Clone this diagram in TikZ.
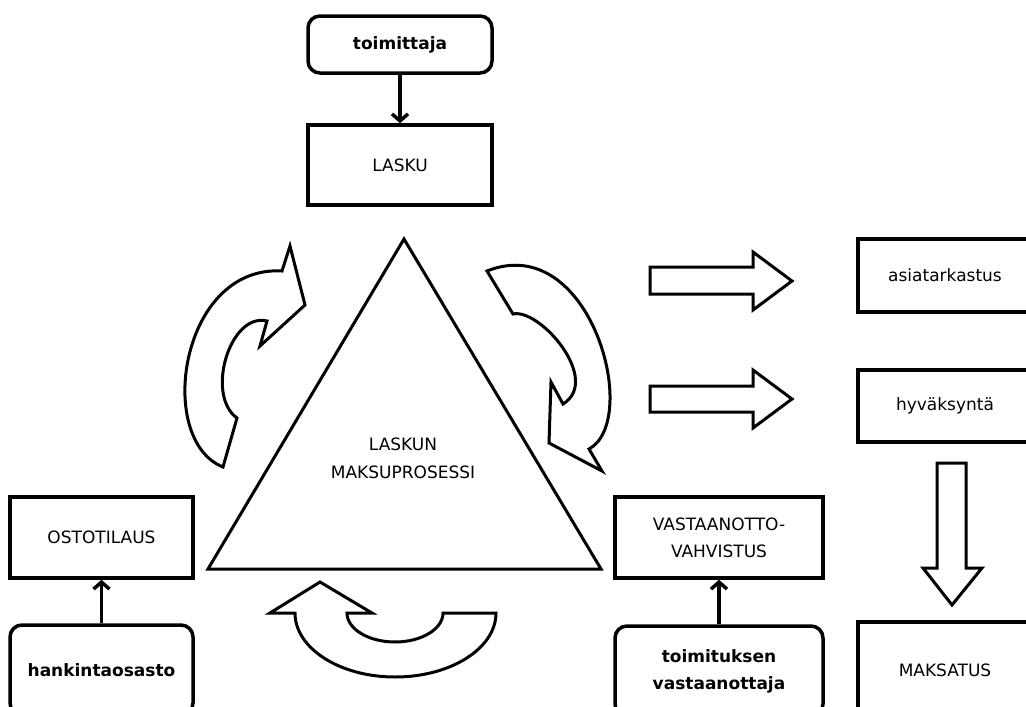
\documentclass[tikz,border=0pt]{standalone}
\usepackage{fontspec}
\setmainfont{DejaVu Sans}
\usetikzlibrary{arrows.meta}
\begin{document}
\begin{tikzpicture}[x=1pt,y=-1pt,
  box/.style={draw, line width=3.5pt, align=center, inner sep=0pt,
    font=\fontsize{17}{27}\selectfont},
  rbox/.style={box, rounded corners=12pt, font=\fontsize{17}{27}\selectfont\bfseries},
  blk/.style={draw, line width=3pt, line join=miter, fill=white},
  conn/.style={line width=3.5pt, -{Straight Barb[length=7pt,width=16pt]}},
  lbl/.style={align=center, inner sep=0pt, font=\fontsize{17}{28}\selectfont}]
\fill[white] (0,0) rectangle (1026,707);
\useasboundingbox (0,0) rectangle (1026,707);
\clip (0,0) rectangle (1026,707);

% boxes
\node[rbox, minimum width=184pt, minimum height=57pt] (toim) at (400,44.5) {toimittaja};
\node[box, minimum width=184pt, minimum height=80pt] (lasku) at (400,165) {LASKU};
\node[box, minimum width=183pt, minimum height=81pt] (osto) at (101.5,537.5) {OSTOTILAUS};
\node[rbox, minimum width=183pt, minimum height=90pt] (hank) at (101.5,670) {hankintaosasto};
\node[box, minimum width=208pt, minimum height=81pt] (vast) at (719,537.5) {VASTAANOTTO-\\VAHVISTUS};
\node[rbox, minimum width=208pt, minimum height=90pt] (tvast) at (719,671) {toimituksen\\vastaanottaja};
\node[box, minimum width=174pt, minimum height=73pt] (asia) at (945,275.5) {asiatarkastus};
\node[box, minimum width=174pt, minimum height=72pt] (hyv) at (945,406) {hyväksyntä};
\node[box, minimum width=174pt, minimum height=96pt] (maks) at (945,670) {MAKSATUS};

% connectors
\draw[conn] (toim.south) -- (lasku.north);
\draw[conn] (hank.north) -- (osto.south);
\draw[conn] (tvast.north) -- (vast.south);

% triangle
\coordinate (tA) at (404,239);
\coordinate (tB) at (208,569);
\coordinate (tC) at (601,569);
\draw[line width=3pt, line join=miter] (tA) -- (tB) -- (tC) -- cycle;
\node[lbl] (tri) at (403,458) {LASKUN\\MAKSUPROSESSI};

% curved arrows
\draw[blk] (223,467) -- (237,418) .. controls (205,395) and (230,312) .. (267,321)
  -- (260,346) -- (305,305) -- (290,246) -- (282,271)
  .. controls (180,265) and (155,440) .. (223,467) -- cycle;
\draw[blk] (487,271) -- (513,314) .. controls (540,308) and (602,380) .. (563,404)
  -- (551,382) -- (549,443) -- (602,471) -- (589,449)
  .. controls (642,420) and (590,230) .. (487,271) -- cycle;
\draw[blk] (320,582) -- (372,613) -- (347,613)
  .. controls (347,629) and (368.5,642) .. (395,642)
  .. controls (421.5,642) and (443,629) .. (443,613)
  -- (496,613)
  .. controls (496,648.3) and (450.8,677) .. (395,677)
  .. controls (339.8,677) and (295,648.3) .. (295,613)
  -- (270,613) -- cycle;

% block arrows
\draw[blk] (650,267) -- (753,267) -- (753,252) -- (792,281) -- (753,310) -- (753,294) -- (650,294) -- cycle;
\draw[blk] (650,386) -- (753,386) -- (753,370) -- (792,399) -- (753,428) -- (753,412) -- (650,412) -- cycle;
\draw[blk] (937,463) -- (966,463) -- (966,568) -- (982,568) -- (952,605) -- (923,568) -- (937,568) -- cycle;
\end{tikzpicture}
\end{document}
